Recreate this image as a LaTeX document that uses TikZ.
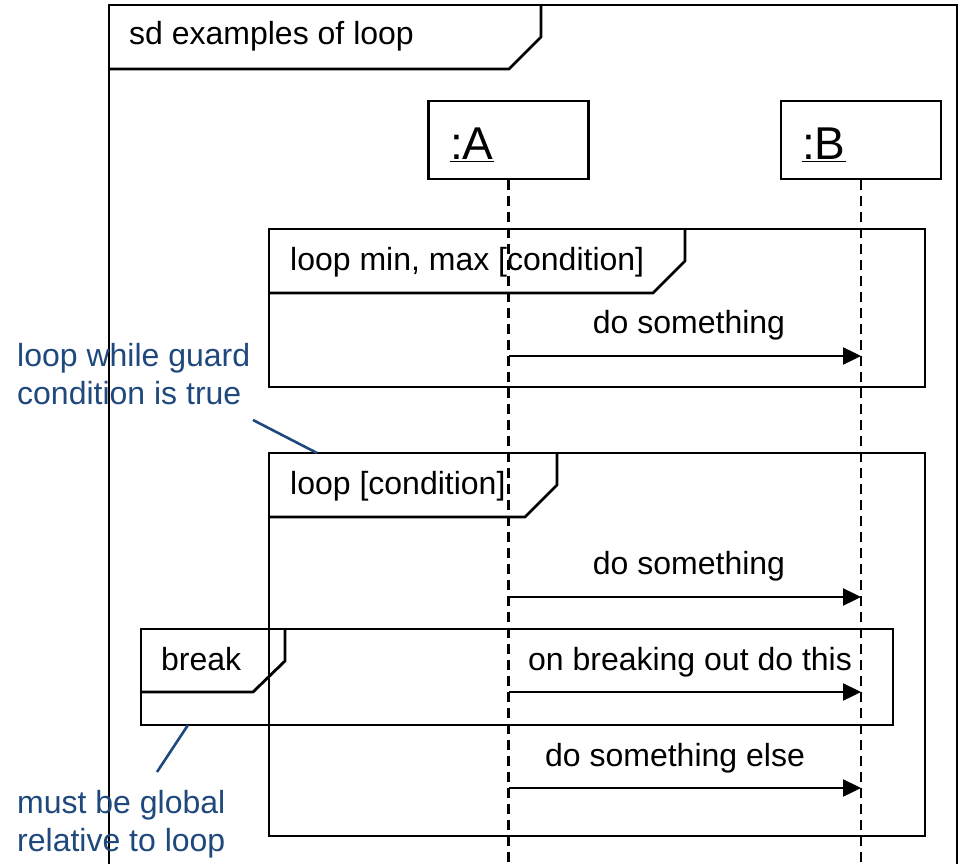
\documentclass[tikz,border=0pt]{standalone}
\usepackage{fontspec}
\setmainfont{Liberation Sans}
\usetikzlibrary{arrows.meta}
\definecolor{noteblue}{HTML}{1F497D}
\tikzset{
    frag/.style={draw, line width=2.8pt, inner sep=0pt},
    tabline/.style={line width=2.8pt},
    head/.style={draw, line width=2.8pt, minimum width=160pt, minimum height=78pt},
    lifeline/.style={line width=2.6pt, dash pattern=on 10pt off 6pt},
    msg/.style={line width=2.4pt, -{Triangle[length=18pt,width=17pt]}},
    note/.style={draw=noteblue, line width=2.6pt},
    notetext/.style={text=noteblue, align=left, anchor=base west}
}

\begin{document}
\begin{tikzpicture}[x=1pt, y=-1pt, font=\fontsize{32}{38}\selectfont]
        \useasboundingbox (0,0) rectangle (961,864);
        % outer diagram frame
        \draw[tabline] (109,880) -- (109,5) -- (957,5) -- (957,880);
        \draw[tabline] (109,69) -- (509,69) -- (541,37) -- (541,5);
        \node[anchor=base west, inner sep=0pt] (SDLBL) at (129,45) {sd examples of loop};
        % lifelines
        \node[head] (A) at (508.5,140) {};
        \node[anchor=base west, inner sep=0pt, font=\fontsize{46}{50}\selectfont] (ALBL) at (450,160) {\underline{:A}};
        \node[head] (B) at (861,140) {};
        \node[anchor=base west, inner sep=0pt, font=\fontsize{46}{50}\selectfont] (BLBL) at (802,160) {\underline{:B}};
        \coordinate (END) at (0,880);
        \draw[lifeline] (A.south) -- (A.south |- END);
        \draw[lifeline] (B.south) -- (B.south |- END);
        % first loop
        \node[frag, minimum width=656pt, minimum height=158pt] (LOOP1) at (597,308) {};
        \draw[tabline] (269,293) -- (653,293) -- (685,261) -- (685,229);
        \node[anchor=base west, inner sep=0pt] (LOOP1LBL) at (290,270) {loop min, max [condition]};
        \coordinate (M1) at (0,356);
        \draw[msg] (A |- M1) -- (B |- M1);
        \node[anchor=base, inner sep=0pt] (M1LBL) at (689,333) {do something};
        % second loop
        \node[frag, minimum width=656pt, minimum height=383pt] (LOOP2) at (597,644.5) {};
        \draw[tabline] (269,517) -- (525,517) -- (557,485) -- (557,453);
        \node[anchor=base west, inner sep=0pt] (LOOP2LBL) at (290,494) {loop [condition]};
        \coordinate (M2) at (0,597);
        \draw[msg] (A |- M2) -- (B |- M2);
        \node[anchor=base, inner sep=0pt] (M2LBL) at (689,574) {do something};
        % break
        \node[frag, minimum width=752pt, minimum height=96pt] (BRK) at (517,677) {};
        \draw[tabline] (141,692) -- (253,692) -- (285,661) -- (285,629);
        \node[anchor=base west, inner sep=0pt] (BRKLBL) at (161,670) {break};
        \coordinate (M3) at (0,692);
        \draw[msg] (A |- M3) -- (B |- M3);
        \node[anchor=base, inner sep=0pt] (M3LBL) at (690,670) {on breaking out do this};
        \coordinate (M4) at (0,788);
        \draw[msg] (A |- M4) -- (B |- M4);
        \node[anchor=base, inner sep=0pt] (M4LBL) at (675,766) {do something else};
        % notes
        \node[notetext, inner sep=0pt] (NOTE1) at (17,404) {loop while guard\\condition is true};
        \coordinate (N1A) at (253,420);
        \coordinate (N1B) at (317,453);
        \draw[note] (N1A) -- (N1B);
        \node[notetext, inner sep=0pt] (NOTE2) at (17,851) {must be global\\relative to loop};
        \coordinate (N2A) at (188,725);
        \coordinate (N2B) at (157,772);
        \draw[note] (N2A) -- (N2B);
\end{tikzpicture}
\end{document}
